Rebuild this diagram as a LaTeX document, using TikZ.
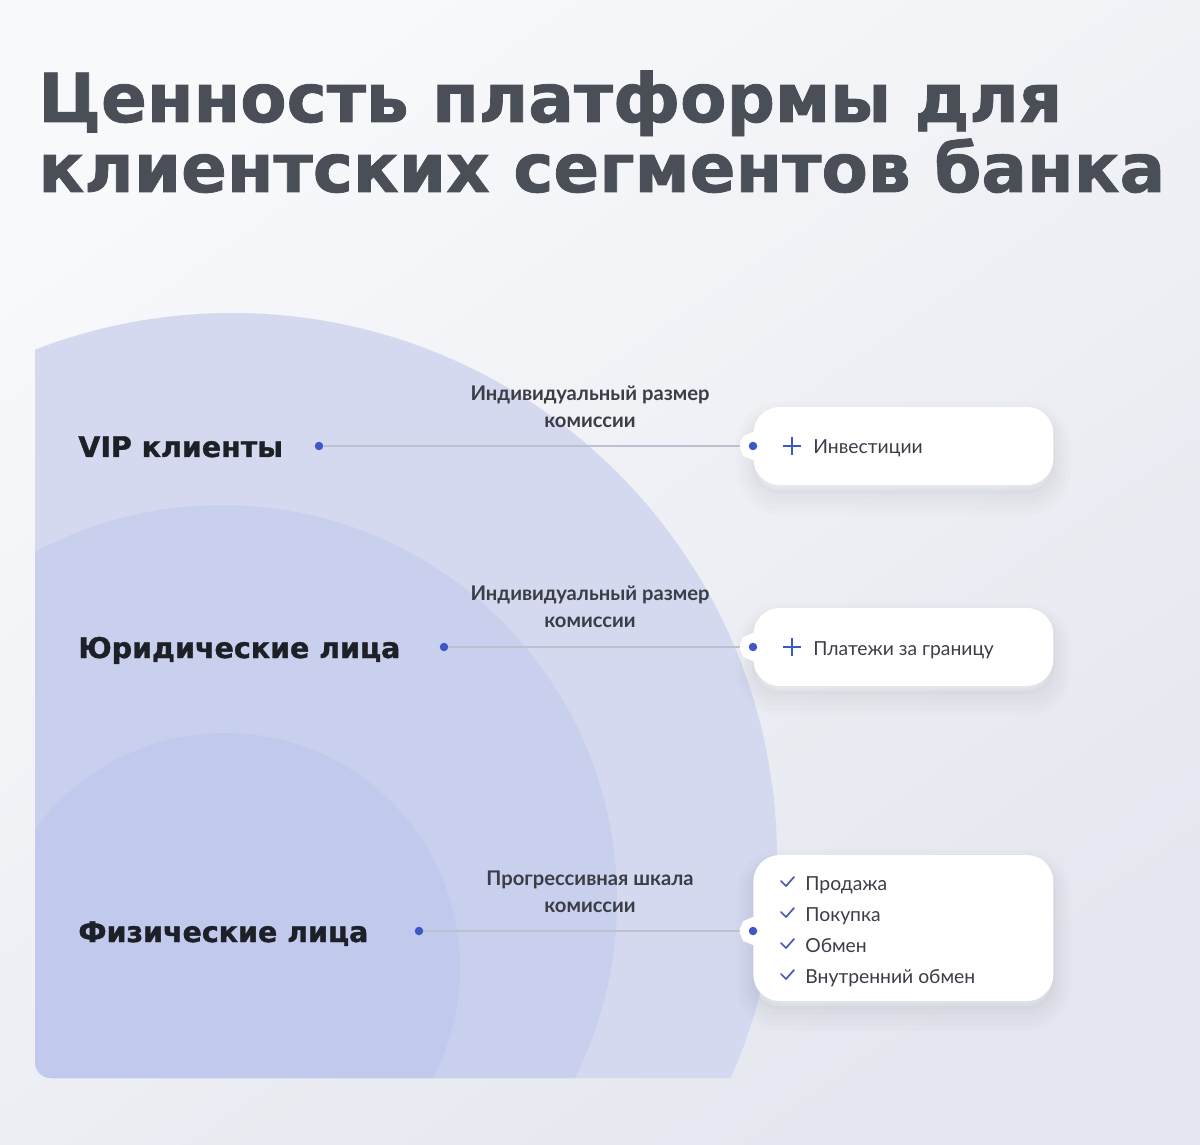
\documentclass[tikz,border=0pt]{standalone}
\usepackage{graphicx}
\usepackage{fontspec}
\setmainfont{Lato}
\newfontfamily\headfont{DejaVu Sans}[BoldFeatures={FakeBold=1.2}]
\usetikzlibrary{positioning}

\definecolor{bgtop}{HTML}{F8F9FB}
\definecolor{bgbot}{HTML}{E4E7EF}
\definecolor{ringout}{HTML}{D4D9F0}
\definecolor{ringmid}{HTML}{C9D0EE}
\definecolor{ringin}{HTML}{C1C9EC}
\definecolor{accent}{HTML}{3F56C6}
\definecolor{titlegray}{HTML}{4A4E57}
\definecolor{ink}{HTML}{1E2027}
\definecolor{textgray}{HTML}{3B3E46}
\definecolor{linkgray}{HTML}{BCC1CF}
\definecolor{tick}{HTML}{5059B3}

\tikzset{
  title/.style={font=\headfont\bfseries\fontsize{36pt}{40pt}\selectfont, text=titlegray, inner sep=0pt, anchor=base west},
  segment/.style={font=\headfont\bfseries\fontsize{16.2pt}{19pt}\selectfont, text=ink, inner sep=0pt, anchor=base west},
  note/.style={font=\bfseries\fontsize{11.5pt}{15.3pt}\selectfont, text=textgray, align=center, inner sep=0pt},
  item/.style={font=\fontsize{11pt}{13pt}\selectfont, text=textgray, inner sep=0pt, anchor=base west},
  dot/.style={circle, fill=accent, inner sep=0pt, minimum size=0.17cm},
  end/.style={dot, outer sep=0.18cm, preaction={draw=white, line width=0.36cm}},
  card/.style={fill=white, rounded corners=15pt, minimum width=6cm, inner sep=0pt, anchor=west,
    preaction={draw=black, draw opacity=0.01, line width=20pt, transform canvas={yshift=-7pt}},
    preaction={draw=black, draw opacity=0.01, line width=15pt, transform canvas={yshift=-7pt}},
    preaction={draw=black, draw opacity=0.012, line width=10pt, transform canvas={yshift=-6pt}},
    preaction={draw=black, draw opacity=0.012, line width=6pt, transform canvas={yshift=-5pt}},
    preaction={draw=black, draw opacity=0.015, line width=2pt, transform canvas={yshift=-4pt}}},
  link/.style={draw=linkgray, line width=0.6pt},
  plus/.style={draw=accent, line width=1pt},
  tickmark/.style={draw=tick, line width=1pt, line cap=round, line join=round}
}

\begin{document}
\begin{tikzpicture}[x=0.02cm, y=-0.02cm]
  \shade[top color=bgtop, bottom color=bgbot, shading angle=35] (0,0) rectangle (1200,1145);
  \useasboundingbox (0,0) rectangle (1200,1145);

  % title
  \node[title] (head1) at (38,122) {\resizebox{20.48cm}{!}{Ценность платформы для}};
  \node[title] (head2) at (38,192) {\resizebox{22.54cm}{!}{клиентских сегментов банка}};

  % segments
  \begin{scope}
    \clip[rounded corners=9pt] (35,250) rectangle (900,1078);
    \fill[ringout] (232,858) circle[radius=545];
    \fill[ringmid] (222,900) circle[radius=395];
    \fill[ringin] (225,968) circle[radius=235];
  \end{scope}

  \node[segment] (vip) at (78,457) {VIP клиенты};
  \node[segment] (jur) at (78,658) {Юридические лица};
  \node[segment] (fiz) at (78,942) {Физические лица};

  % cards
  \node[card, minimum height=1.56cm] (vipcard) at (753,446) {};
  \node[card, minimum height=1.56cm] (jurcard) at (753,647) {};
  \node[card, minimum height=2.92cm] (fizcard) at (753,928) {};

  \node[dot] (vipdot) at (319,446) {};
  \node[dot] (jurdot) at (444,647) {};
  \node[dot] (fizdot) at (419,931) {};
  \node[end] (vipend) at (753,446) {};
  \node[end] (jurend) at (753,647) {};
  \node[end] (fizend) at (753,931) {};

  \draw[link] (vipdot) -- (vipend);
  \draw[link] (jurdot) -- (jurend);
  \draw[link] (fizdot) -- (fizend);

  \node[note] (vipnote) at (590,407) {Индивидуальный размер\\комиссии};
  \node[note] (jurnote) at (590,607) {Индивидуальный размер\\комиссии};
  \node[note] (fiznote) at (590,892) {Прогрессивная шкала\\комиссии};

  % card contents
  \draw[plus] (783,446) -- (801,446) (792,437) -- (792,455);
  \node[item] (invest) at (813,453) {Инвестиции};
  \draw[plus] (783,647) -- (801,647) (792,638) -- (792,656);
  \node[item] (abroad) at (813,655) {Платежи за границу};

  \draw[tickmark] (781,881) -- (786,886) -- (794,877);
  \node[item] (sell) at (805,890) {Продажа};
  \draw[tickmark] (781,912) -- (786,917) -- (794,908);
  \node[item] (buy) at (805,921) {Покупка};
  \draw[tickmark] (781,943) -- (786,948) -- (794,939);
  \node[item] (swap) at (805,952) {Обмен};
  \draw[tickmark] (781,974) -- (786,979) -- (794,970);
  \node[item] (inswap) at (805,983) {Внутренний обмен};
\end{tikzpicture}
\end{document}
